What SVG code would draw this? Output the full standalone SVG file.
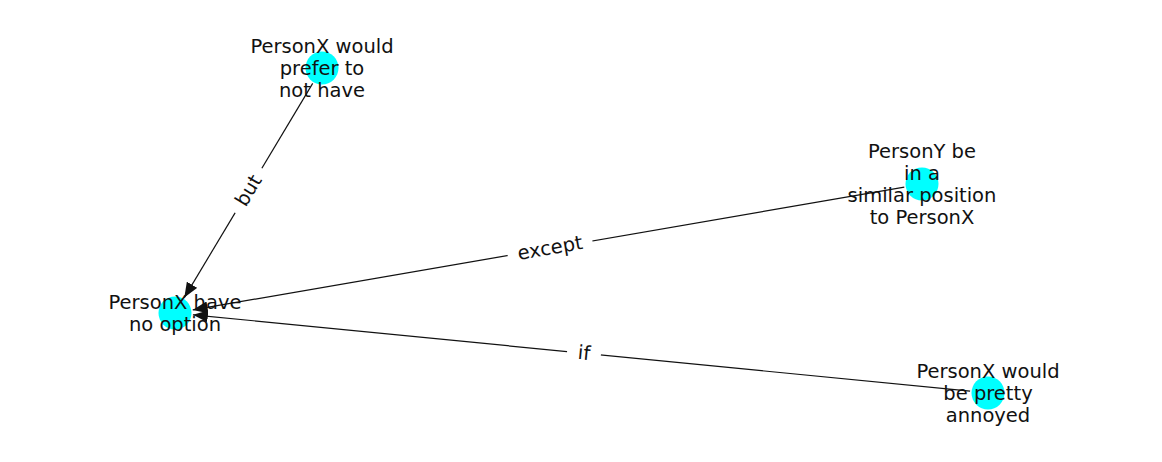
<svg xmlns="http://www.w3.org/2000/svg" width="1162" height="462" viewBox="0 0 1162 462">
<style>
.edge{stroke:#111;stroke-width:1.2;fill:none}
.node{fill:#00ffff}
.lbl{font-family:"DejaVu Sans",sans-serif;font-size:19.5px;fill:#111;text-anchor:middle;dominant-baseline:central}
.ebox{fill:#fff}
</style>
<defs>
<marker id="arr" viewBox="0 0 15 12" refX="15" refY="6" markerWidth="15" markerHeight="12" markerUnits="userSpaceOnUse" orient="auto">
<path d="M0,0 L15,6 L0,12 Z" fill="#111"/>
</marker>
</defs>
<rect width="1162" height="462" fill="#fff"/>
<g id="edges">
<line class="edge" x1="312.7" y1="83.4" x2="184.3" y2="297.6" marker-end="url(#arr)"/>
<line class="edge" x1="904.3" y1="187.1" x2="192.7" y2="309.9" marker-end="url(#arr)"/>
<line class="edge" x1="970.1" y1="391.2" x2="192.9" y2="314.8" marker-end="url(#arr)"/>
</g>
<g id="node-A">
<circle class="node" cx="175" cy="313" r="16.5"/>
<text class="lbl" x="175" y="313"><tspan x="175" dy="-11">PersonX have</tspan><tspan x="175" dy="22">no option</tspan></text>
</g>
<g id="node-B">
<circle class="node" cx="322" cy="68" r="16.5"/>
<text class="lbl" x="322" y="68"><tspan x="322" dy="-22">PersonX would</tspan><tspan x="322" dy="22">prefer to</tspan><tspan x="322" dy="22">not have</tspan></text>
</g>
<g id="node-C">
<circle class="node" cx="922" cy="184" r="16.5"/>
<text class="lbl" x="922" y="184"><tspan x="922" dy="-33">PersonY be</tspan><tspan x="922" dy="22">in a</tspan><tspan x="922" dy="22">similar position</tspan><tspan x="922" dy="22">to PersonX</tspan></text>
</g>
<g id="node-D">
<circle class="node" cx="988" cy="393" r="16.5"/>
<text class="lbl" x="988" y="393"><tspan x="988" dy="-22">PersonX would</tspan><tspan x="988" dy="22">be pretty</tspan><tspan x="988" dy="22">annoyed</tspan></text>
</g>
<g id="edge-labels">
<g transform="translate(248.5,190.5) rotate(-59.04)">
<rect class="ebox" x="-26" y="-14" width="52" height="28"/>
<text class="lbl" x="0" y="0">but</text>
</g>
<g transform="translate(550,248) rotate(-9.8)">
<rect class="ebox" x="-43" y="-14" width="86" height="28"/>
<text class="lbl" x="0" y="0">except</text>
</g>
<g transform="translate(584,353) rotate(5.62)">
<rect class="ebox" x="-17" y="-14" width="34" height="28"/>
<text class="lbl" x="0" y="0">if</text>
</g>
</g>
</svg>
